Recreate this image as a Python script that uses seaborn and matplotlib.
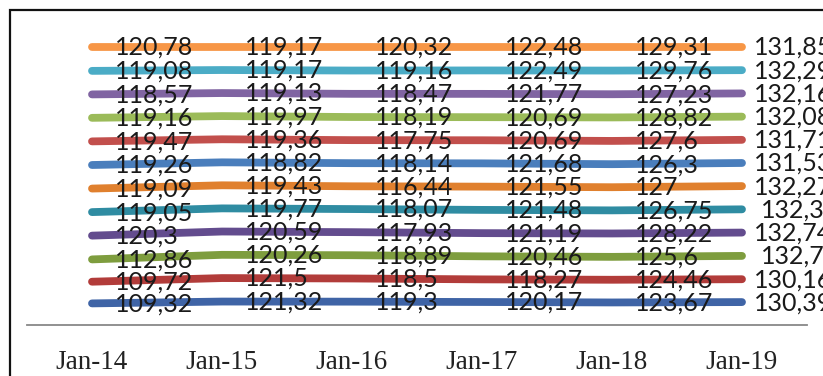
import matplotlib
matplotlib.use("Agg")
import matplotlib.pyplot as plt
from matplotlib.patches import Rectangle
import numpy as np
import pandas as pd
import seaborn as sns

# ---------------- data ----------------
dates = ["Jan-14", "Jan-15", "Jan-16", "Jan-17", "Jan-18", "Jan-19"]

# series listed from bottom of the stack to the top
s01 = [109.32, 121.32, 119.30, 120.17, 123.67, 130.39]
s02 = [109.72, 121.50, 118.50, 118.27, 124.46, 130.16]
s03 = [112.86, 120.26, 118.89, 120.46, 125.60, 132.70]
s04 = [120.30, 120.59, 117.93, 121.19, 128.22, 132.74]
s05 = [119.05, 119.77, 118.07, 121.48, 126.75, 132.30]
s06 = [119.09, 119.43, 116.44, 121.55, 127.00, 132.27]
s07 = [119.26, 118.82, 118.14, 121.68, 126.30, 131.53]
s08 = [119.47, 119.36, 117.75, 120.69, 127.60, 131.71]
s09 = [119.16, 119.97, 118.19, 120.69, 128.82, 132.08]
s10 = [118.57, 119.13, 118.47, 121.77, 127.23, 132.16]
s11 = [119.08, 119.17, 119.16, 122.49, 129.76, 132.29]
s12 = [120.78, 119.17, 120.32, 122.48, 129.31, 131.85]

series_names = ["S1", "S2", "S3", "S4", "S5", "S6",
                "S7", "S8", "S9", "S10", "S11", "S12"]
series_values = [s01, s02, s03, s04, s05, s06, s07, s08, s09, s10, s11, s12]

colors = ["#3F64A6", "#B23C3A", "#7E9D3E", "#634C8E", "#2F8CA2", "#E0802E",
          "#4A7EBC", "#C24F4C", "#9BBB59", "#8064A2", "#4BACC6", "#F79646"]

# ---------------- 100% stacked line ----------------
wide = pd.DataFrame({n: v for n, v in zip(series_names, series_values)}, index=dates)
share = wide.cumsum(axis=1).div(wide.sum(axis=1), axis=0)
share["pos"] = np.arange(len(dates))
long = share.melt(id_vars="pos", var_name="series", value_name="y")
raw = wide.copy()
raw["pos"] = np.arange(len(dates))
long_raw = raw.melt(id_vars="pos", var_name="series", value_name="v")
long["v"] = long_raw["v"].values

sns.set_theme(style="white")
plt.rcParams["font.family"] = ["Lato", "DejaVu Sans"]

W, H = 823, 376
fig = plt.figure(figsize=(W / 100, H / 100), dpi=100)
fig.patch.set_facecolor("white")
ax = fig.add_axes([27 / W, 51 / H, 780 / W, 278 / H])

sns.lineplot(data=long, x="pos", y="y", hue="series", hue_order=series_names,
             palette=colors, linewidth=5.6, legend=False, sort=False, ax=ax,
             solid_capstyle="round", clip_on=False, estimator=None)

ax.set_xlim(-0.5, len(dates) - 0.5)
ax.set_ylim(0, 1)
ax.set_xlabel("")
ax.set_ylabel("")
ax.set_yticks([])
ax.set_xticks(np.arange(len(dates)))
ax.set_xticklabels(dates, fontfamily="Liberation Serif", fontsize=19.5, color="#222222")
ax.tick_params(axis="x", length=0, pad=18)
for side in ["top", "right", "left"]:
    ax.spines[side].set_visible(False)
ax.spines["bottom"].set_color("#888888")
ax.spines["bottom"].set_linewidth(1.3)
ax.patch.set_alpha(0)


def fmt(v):
    return f"{v:g}".replace(".", ",")


last = len(dates) - 1
for _, r in long.iterrows():
    if r["pos"] < last:
        ax.annotate(fmt(r["v"]), xy=(r["pos"], r["y"]), xytext=(23, -8),
                    textcoords="offset pixels", ha="left", va="baseline",
                    fontsize=18, color="#1a1a1a", annotation_clip=False)
    else:
        ax.annotate(fmt(r["v"]), xy=(r["pos"], r["y"]), xytext=(51, -8),
                    textcoords="offset pixels", ha="center", va="baseline",
                    fontsize=18, color="#1a1a1a", annotation_clip=False)

# outer chart frame (cropped at right and bottom)
fig.patches.append(Rectangle((10 / W, -0.2), 1.2, 1.2 - 10 / H + 0.0,
                             transform=fig.transFigure, fill=False,
                             edgecolor="#111111", linewidth=1.6))

fig.savefig("out.png", dpi=100)
